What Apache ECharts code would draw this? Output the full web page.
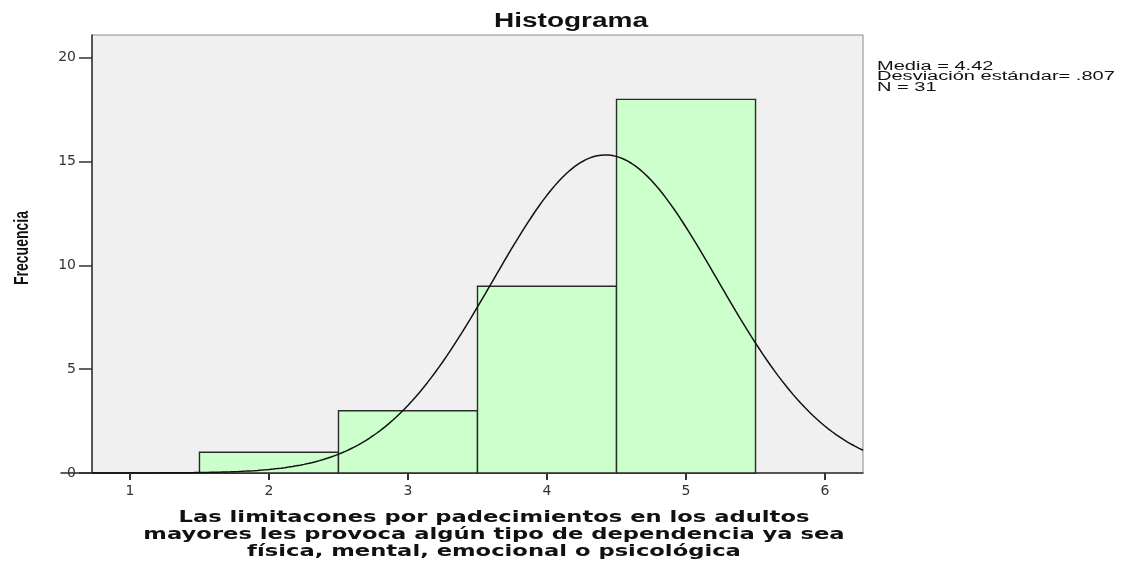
<!DOCTYPE html>
<html>
<head>
<meta charset="utf-8">
<script src="https://cdn.jsdelivr.net/npm/echarts@6/dist/echarts.min.js"></script>
<style>
  html, body { margin: 0; padding: 0; background: #fff; }
  #chart { width: 1121px; height: 561px; }
</style>
</head>
<body>
<div id="chart"></div>
<script>
// datos del histograma
var binStart = [0.5, 1.5, 2.5, 3.5, 4.5];
var binEnd = [1.5, 2.5, 3.5, 4.5, 5.5];
var frecuencias = [0, 1, 3, 9, 18];
var xTicks = [1, 2, 3, 4, 5, 6];
var yTicks = [0, 5, 10, 15, 20];
var media = 4.42;
var desviacion = 0.807;
var total = 31;
var xMin = 0.727, xMax = 6.273, yMax = 21.1;

var barData = [];
for (var i = 0; i < frecuencias.length; i++) {
    barData.push([binStart[i], binEnd[i], frecuencias[i]]);
}

// curva normal a partir de media, desviacion y N (ancho de intervalo = 1)
var curveData = [];
for (var k = 0; k <= 200; k++) {
    var x = xMin + (xMax - xMin) * k / 200;
    var z = (x - media) / desviacion;
    curveData.push([x, total / (desviacion * Math.sqrt(2 * Math.PI)) * Math.exp(-0.5 * z * z)]);
}

var textos = [
    {
        type: 'text', x: 571, y: 21, scaleX: 1.4,
        style: { text: 'Histograma', font: 'bold 20px "Liberation Sans", Arial', fill: '#111',
                 textAlign: 'center', textVerticalAlign: 'middle' }
    },
    {
        type: 'text', x: 22, y: 248, rotation: Math.PI / 2, scaleX: 0.7,
        style: { text: 'Frecuencia', font: 'bold 20px "Liberation Sans", Arial', fill: '#111',
                 textAlign: 'center', textVerticalAlign: 'middle' }
    },
    {
        type: 'text', x: 494, y: 535, scaleX: 1.51,
        style: { text: 'Las limitacones por padecimientos en los adultos\nmayores les provoca algún tipo de dependencia ya sea\nfísica, mental, emocional o psicológica',
                 font: 'bold 15px "DejaVu Sans"', lineHeight: 17, fill: '#111',
                 textAlign: 'center', textVerticalAlign: 'middle' }
    },
    {
        type: 'text', x: 877, y: 77, scaleX: 1.67,
        style: { text: 'Media = 4.42\nDesviación estándar= .807\nN = 31',
                 font: '12px "Liberation Sans", Arial', lineHeight: 10.5, fill: '#111',
                 textAlign: 'left', textVerticalAlign: 'middle' }
    }
];

var chart = echarts.init(document.getElementById('chart'));

var option = {
    animation: false,
    grid: {
        left: 92, right: 258, top: 35, bottom: 88,
        show: true,
        backgroundColor: '#f0f0f0',
        borderColor: '#8a8a8a',
        borderWidth: 1
    },
    xAxis: {
        type: 'value',
        min: xMin,
        max: xMax,
        splitLine: { show: false },
        axisLine: { show: true, onZero: false, lineStyle: { color: '#333', width: 1.5 } },
        axisTick: { show: true, inside: false, customValues: xTicks, length: 7, lineStyle: { color: '#333', width: 1.5 } },
        axisLabel: { show: true, customValues: xTicks, fontFamily: 'DejaVu Sans', fontSize: 14, color: '#333', margin: 11 }
    },
    yAxis: {
        type: 'value',
        min: 0,
        max: yMax,
        splitLine: { show: false },
        axisLine: { show: true, onZero: false, lineStyle: { color: '#333', width: 1.5 } },
        axisTick: { show: true, inside: false, customValues: yTicks, length: 13, lineStyle: { color: '#333', width: 1.5 } },
        axisLabel: { show: true, customValues: yTicks, fontFamily: 'DejaVu Sans', fontSize: 14, color: '#333', margin: 16 }
    },
    series: [
        {
            type: 'custom',
            data: barData,
            encode: { x: [0, 1], y: 2 },
            renderItem: function (params, api) {
                var p0 = api.coord([api.value(0), api.value(2)]);
                var p1 = api.coord([api.value(1), 0]);
                return {
                    type: 'rect',
                    shape: { x: p0[0], y: p0[1], width: p1[0] - p0[0], height: p1[1] - p0[1] },
                    style: { fill: '#ccffcc', stroke: '#2a2a2a', lineWidth: 1.4 }
                };
            },
            z: 2
        },
        {
            type: 'line',
            data: curveData,
            showSymbol: false,
            smooth: false,
            lineStyle: { color: '#111', width: 1.5 },
            z: 3
        }
    ],
    graphic: textos
};

chart.setOption(option);

// marcas del eje x, ubicadas con la escala del propio eje
var marcas = xTicks.map(function (v) {
    var p = chart.convertToPixel({ xAxisIndex: 0, yAxisIndex: 0 }, [v, 0]);
    return {
        type: 'rect', zlevel: 2, z: 100, silent: true,
        shape: { x: Math.round(p[0]) - 1, y: Math.round(p[1]), width: 2, height: 7 },
        style: { fill: '#333' }
    };
});
chart.setOption({ graphic: textos.concat(marcas) });
</script>
</body>
</html>
